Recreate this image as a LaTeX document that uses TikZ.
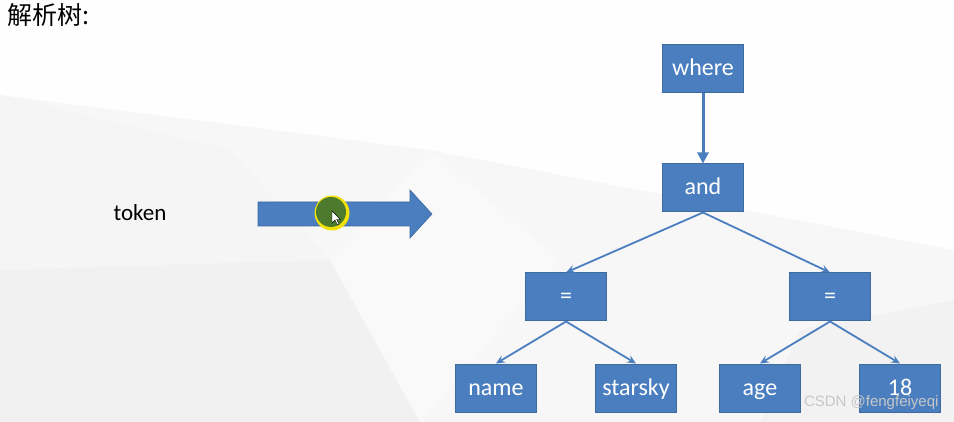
\documentclass[tikz,border=0pt]{standalone}
\usepackage{fontspec}
\setmainfont{Carlito}
\newfontfamily\cjk{Noto Sans CJK SC}
\newfontfamily\wmfont{Liberation Sans}
\usetikzlibrary{arrows.meta}
\definecolor{boxblue}{HTML}{4A7EBF}
\definecolor{boxedge}{HTML}{3D6A9F}
\definecolor{linkblue}{HTML}{4A7EBF}
\definecolor{cursorgreen}{HTML}{4E7A2E}
\definecolor{cursoryellow}{HTML}{F2E20A}
\tikzset{
  treebox/.style={draw=boxedge, line width=1pt, fill=boxblue, minimum width=81pt, minimum height=48pt, inner sep=0pt, text height=18pt, text depth=4pt, text=white, font=\fontsize{24}{27}\selectfont},
  mainlink/.style={draw=linkblue, line width=3pt, -{Triangle[length=11pt,width=11pt]}},
  sublink/.style={draw=linkblue, line width=1.8pt, -{Stealth[length=9pt,width=8pt,inset=3.5pt]}},
}
\begin{document}
\begin{tikzpicture}[x=1pt,y=-1pt]
\useasboundingbox (0,0) rectangle (954,422);
% background
\fill[white!97!black] (0,0) rectangle (954,422);
\fill[white!99.5!black] (0,0) -- (954,0) -- (954,250) -- (430,150) -- (0,95) -- cycle;
\fill[white!96!black] (0,95) -- (230,150) -- (330,260) -- (0,270) -- cycle;
\fill[white!94.5!black] (0,270) -- (330,260) -- (420,422) -- (0,422) -- cycle;
\fill[white!97.5!black] (330,260) -- (430,150) -- (560,260) -- (420,422) -- cycle;
\fill[white!95!black] (800,330) -- (954,300) -- (954,422) -- (760,422) -- cycle;
% title
\node[anchor=north west, inner sep=0pt, font=\cjk\fontsize{25}{28}\selectfont] (title) at (7,3) {解析树:};
% token
\node[font=\fontsize{23}{26}\selectfont] (tok) at (140,213) {token};
% big arrow
\fill[boxblue] (258,202) -- (410,202) -- (410,190) -- (432,214) -- (410,238) -- (410,226) -- (258,226) -- cycle;
\draw[boxedge, line width=0.6pt] (258,202) -- (410,202) -- (410,190) -- (432,214) -- (410,238) -- (410,226) -- (258,226) -- cycle;
% cursor highlight
\fill[cursoryellow] (332,213) circle (17.5pt);
\fill[cursorgreen] (331,212) circle (15pt);
\fill[white, draw=black, line width=0.4pt] (332,211) -- (332,223) -- (335,220) -- (337.5,225) -- (339,224.3) -- (336.6,219.5) -- (340.5,219.5) -- cycle;
% tree
\node[treebox] (where) at (703,69) {where};
\node[treebox] (and) at (703,188) {and};
\node[treebox] (eqL) at (566,297) {=};
\node[treebox] (eqR) at (830,297) {=};
\node[treebox] (name) at (496,388) {name};
\node[treebox] (star) at (636,388) {starsky};
\node[treebox] (age) at (760,388) {age};
\node[treebox] (eig) at (900,388) {18};
\draw[mainlink] (where.south) -- (and.north);
\draw[sublink] (and.south) -- (eqL.north);
\draw[sublink] (and.south) -- (eqR.north);
\draw[sublink] (eqL.south) -- (name.north);
\draw[sublink] (eqL.south) -- (star.north);
\draw[sublink] (eqR.south) -- (age.north);
\draw[sublink] (eqR.south) -- (eig.north);
% watermark
\node[anchor=east, font=\wmfont\fontsize{15}{18}\selectfont, text=white!78!black] (wm) at (942,403) {CSDN @fengfeiyeqi};
\end{tikzpicture}
\end{document}
